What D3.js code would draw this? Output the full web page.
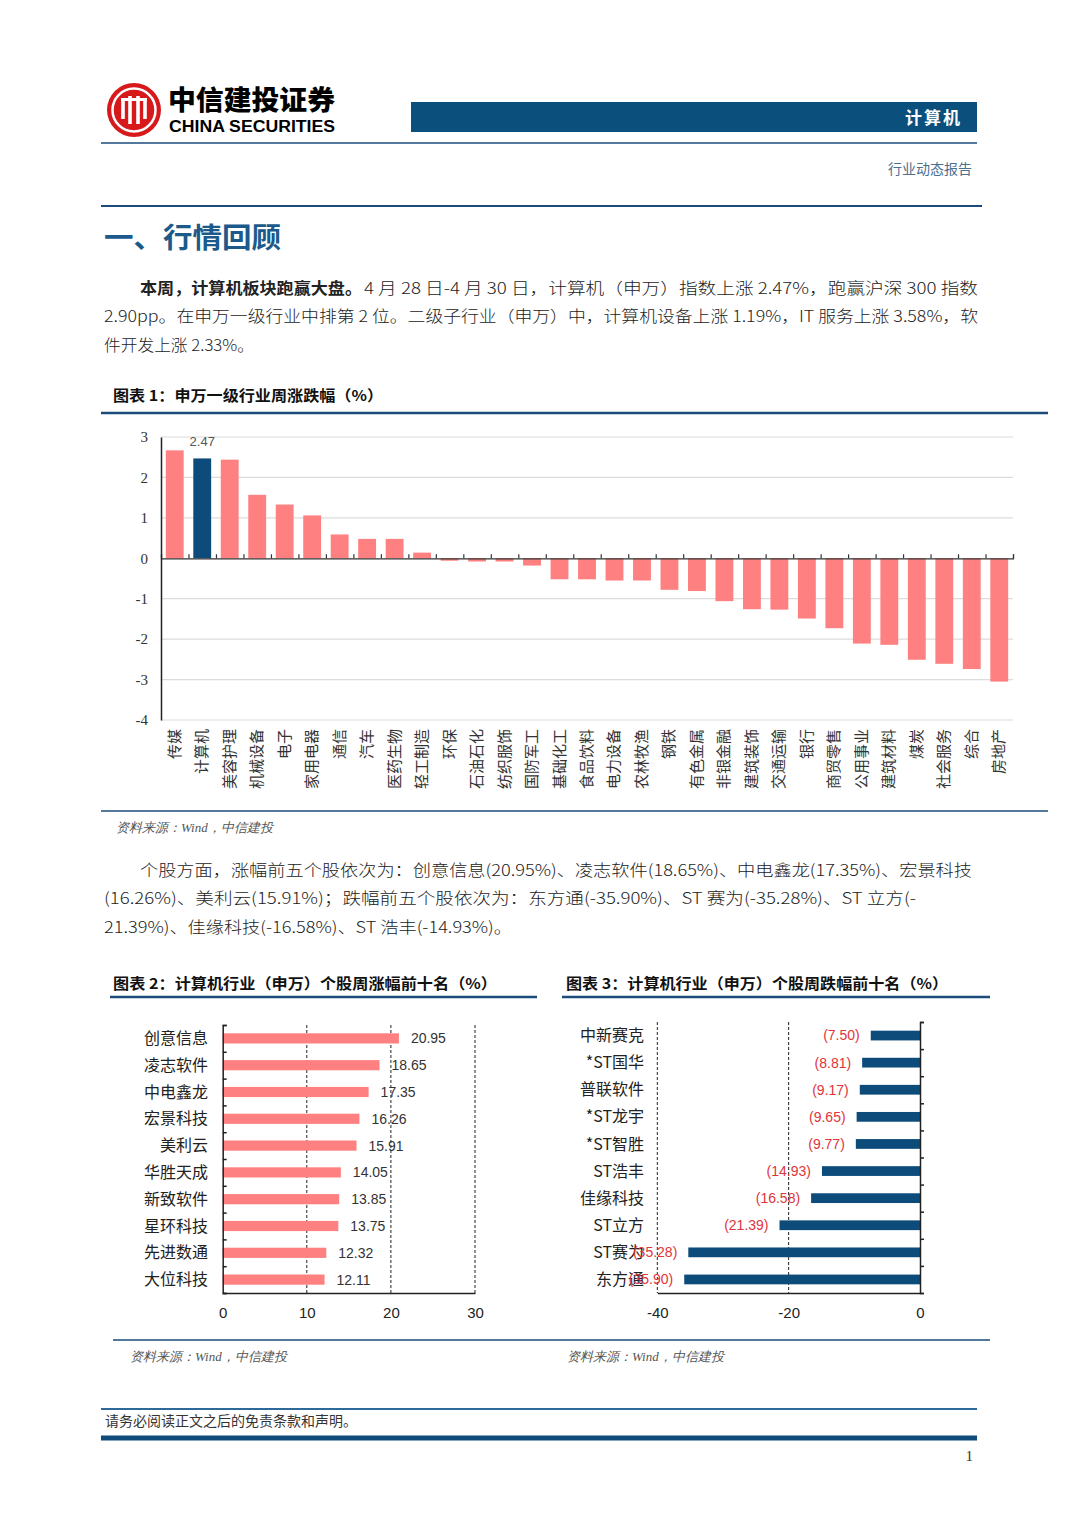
<!DOCTYPE html>
<html>
<head>
<meta charset="utf-8">
<script src="https://cdn.jsdelivr.net/npm/d3@7"></script>
<style>
  body { margin: 0; background: #fff; }
  svg { display: block; }
</style>
</head>
<body>
<div id="page"></div>
<script>
// === Data ===
const industries = ["传媒","计算机","美容护理","机械设备","电子","家用电器","通信","汽车","医药生物","轻工制造",
  "环保","石油石化","纺织服饰","国防军工","基础化工","食品饮料","电力设备","农林牧渔","钢铁","有色金属",
  "非银金融","建筑装饰","交通运输","银行","商贸零售","公用事业","建筑材料","煤炭","社会服务","综合","房地产"];
const industryChg = [2.67, 2.47, 2.44, 1.57, 1.33, 1.06, 0.59, 0.48, 0.48, 0.14,
  -0.06, -0.08, -0.08, -0.18, -0.52, -0.52, -0.55, -0.55, -0.78, -0.81,
  -1.06, -1.26, -1.27, -1.49, -1.73, -2.11, -2.14, -2.51, -2.61, -2.74, -3.05];
const yTicks1 = [3, 2, 1, 0, -1, -2, -3, -4];

const gainers = ["创意信息","凌志软件","中电鑫龙","宏景科技","美利云","华胜天成","新致软件","星环科技","先进数通","大位科技"];
const gainerChg = [20.95, 18.65, 17.35, 16.26, 15.91, 14.05, 13.85, 13.75, 12.32, 12.11];
const xTicks2 = [0, 10, 20, 30];

const losers = ["中新赛克","*ST国华","普联软件","*ST龙宇","*ST智胜","ST浩丰","佳缘科技","ST立方","ST赛为","东方通"];
const loserChg = [-7.50, -8.81, -9.17, -9.65, -9.77, -14.93, -16.58, -21.39, -35.28, -35.90];
const xTicks3 = [-40, -20, 0];

// === Styles ===
const CJK = "'Noto Sans CJK SC', 'Noto Sans', sans-serif";
const SERIF = "'Liberation Serif', 'DejaVu Serif', serif";
const SANS = "'Liberation Sans', Arial, sans-serif";
const navy = "#0d4c7a";
const salmon = "#ff8080";
const lineBlue = "#1a4b7a";
const plain = d => String(d);   // hyphen minus like the source

const svg = d3.select("#page").append("svg")
  .attr("width", 1080).attr("height", 1527);

svg.append("rect").attr("width", 1080).attr("height", 1527).attr("fill", "#fff");

// === Header ===
const logo = svg.append("g").attr("transform", "translate(134,110)");
logo.append("circle").attr("r", 27).attr("fill", "#d7191c");
logo.append("circle").attr("r", 21.5).attr("fill", "none").attr("stroke", "#fff").attr("stroke-width", 2.5);
[-11, -4, 4, 11].forEach((x, i) => {
  logo.append("rect").attr("x", x - 1.8).attr("y", i === 0 || i === 3 ? -9 : -14)
    .attr("width", 3.6).attr("height", i === 0 || i === 3 ? 18 : 28).attr("fill", "#fff");
});
logo.append("rect").attr("x", -13).attr("y", -12).attr("width", 26).attr("height", 3).attr("fill", "#fff");

svg.append("text").attr("x", 168).attr("y", 110)
  .attr("font-family", CJK).attr("font-weight", 900).attr("font-size", 27)
  .attr("textLength", 167).attr("lengthAdjust", "spacingAndGlyphs")
  .text("中信建投证券");
svg.append("text").attr("x", 169).attr("y", 132)
  .attr("font-family", SANS).attr("font-weight", 700).attr("font-size", 16)
  .attr("textLength", 166).attr("lengthAdjust", "spacingAndGlyphs")
  .text("CHINA SECURITIES");

svg.append("rect").attr("x", 411).attr("y", 102).attr("width", 566).attr("height", 30).attr("fill", "#0b4f7c");
svg.append("text").attr("x", 962).attr("y", 124).attr("text-anchor", "end")
  .attr("font-family", CJK).attr("font-weight", 700).attr("font-size", 17).attr("fill", "#fff")
  .attr("letter-spacing", 2).text("计算机");
svg.append("line").attr("x1", 101).attr("x2", 977).attr("y1", 143).attr("y2", 143)
  .attr("stroke", lineBlue).attr("stroke-width", 1.5);
svg.append("text").attr("x", 972).attr("y", 174).attr("text-anchor", "end")
  .attr("font-family", CJK).attr("font-size", 14).attr("fill", "#4a6f90").text("行业动态报告");
svg.append("line").attr("x1", 101).attr("x2", 982).attr("y1", 206).attr("y2", 206)
  .attr("stroke", lineBlue).attr("stroke-width", 2);

svg.append("text").attr("x", 104).attr("y", 248)
  .attr("font-family", CJK).attr("font-weight", 700).attr("font-size", 28).attr("fill", "#1b5a8a")
  .attr("textLength", 177).attr("lengthAdjust", "spacingAndGlyphs")
  .text("一、行情回顾");

// === Paragraphs ===
function line(x, y, txt, len, bold) {
  const t = svg.append("text").attr("x", x).attr("y", y)
    .attr("font-family", CJK).attr("font-size", 16).attr("fill", "#222")
    .attr("font-weight", bold ? 700 : 300)
    .text(txt);
  if (len) t.attr("textLength", len).attr("lengthAdjust", "spacingAndGlyphs");
  return t;
}
line(140, 294, "本周，计算机板块跑赢大盘。", 222, true);
line(364, 294, "4 月 28 日-4 月 30 日，计算机（申万）指数上涨 2.47%，跑赢沪深 300 指数", 614);
line(104, 322, "2.90pp。在申万一级行业中排第 2 位。二级子行业（申万）中，计算机设备上涨 1.19%，IT 服务上涨 3.58%，软", 874);
line(104, 351, "件开发上涨 2.33%。", 150);

line(140, 876, "个股方面，涨幅前五个股依次为：创意信息(20.95%)、凌志软件(18.65%)、中电鑫龙(17.35%)、宏景科技", 832);
line(104, 904, "(16.26%)、美利云(15.91%)；跌幅前五个股依次为：东方通(-35.90%)、ST 赛为(-35.28%)、ST 立方(-", 812);
line(104, 933, "21.39%)、佳缘科技(-16.58%)、ST 浩丰(-14.93%)。", 408);

// === Chart titles and frame lines ===
function title(x, y, txt, len) {
  svg.append("text").attr("x", x).attr("y", y)
    .attr("font-family", CJK).attr("font-weight", 700).attr("font-size", 15).attr("fill", "#111")
    .attr("textLength", len).attr("lengthAdjust", "spacingAndGlyphs").text(txt);
}
function source(x, y) {
  svg.append("text").attr("x", x).attr("y", y)
    .attr("font-family", SERIF).attr("font-style", "italic").attr("font-size", 13).attr("fill", "#555")
    .text("资料来源：Wind，中信建投");
}
function hline(x1, x2, y, w, c) {
  svg.append("line").attr("x1", x1).attr("x2", x2).attr("y1", y).attr("y2", y)
    .attr("stroke", c || lineBlue).attr("stroke-width", w);
}

title(113, 401, "图表 1：申万一级行业周涨跌幅（%）", 270);
hline(101, 1048, 413, 2.5);
hline(101, 1048, 811, 1.5);
source(116, 832);

title(113, 989, "图表 2：计算机行业（申万）个股周涨幅前十名（%）", 384);
title(566, 989, "图表 3：计算机行业（申万）个股周跌幅前十名（%）", 382);
hline(110, 537, 997, 2.5);
hline(562, 990, 997, 2.5);
hline(113, 990, 1340, 1.5);
source(130, 1361);
source(567, 1361);

// === Chart 1: industry bars ===
const x1 = d3.scaleBand().domain(industries).range([161, 1013]).paddingInner(0.35).paddingOuter(0.175);
const y1 = d3.scaleLinear().domain([-4, 3]).range([720, 437]);

const c1 = svg.append("g");
c1.selectAll(".grid").data(yTicks1.filter(d => d !== 0)).join("line")
  .attr("x1", 161).attr("x2", 1013).attr("y1", d => y1(d)).attr("y2", d => y1(d))
  .attr("stroke", "#dcdcdc").attr("stroke-width", 1.2);

c1.selectAll(".bar").data(industries).join("rect")
  .attr("x", d => x1(d)).attr("width", x1.bandwidth())
  .attr("y", (d, i) => y1(Math.max(0, industryChg[i])))
  .attr("height", (d, i) => Math.abs(y1(industryChg[i]) - y1(0)))
  .attr("fill", d => d === "计算机" ? navy : salmon);

// zero line with category boundary ticks
const xb = d3.scaleLinear().domain([0, industries.length]).range([161, 1013]);
c1.append("g").attr("transform", `translate(0,${y1(0)})`)
  .call(d3.axisTop(xb).tickValues(d3.range(industries.length + 1)).tickSize(4).tickFormat(""))
  .call(g => g.selectAll("path,line").attr("stroke", "#333").attr("stroke-width", 1.2));

c1.append("g").attr("transform", "translate(161,0)")
  .call(d3.axisLeft(y1).tickValues(yTicks1).tickSize(0).tickPadding(13).tickFormat(plain))
  .call(g => g.select(".domain").attr("stroke", "#222").attr("stroke-width", 1.5))
  .call(g => g.selectAll("text").attr("font-family", SERIF).attr("font-size", 15).attr("fill", "#333"));

// value label on computer bar
c1.append("text").attr("x", x1("计算机") + x1.bandwidth() / 2).attr("y", y1(3) + 9)
  .attr("text-anchor", "middle").attr("font-family", SANS).attr("font-size", 13).attr("fill", "#555")
  .text(d3.format(".2f")(industryChg[industries.indexOf("计算机")]));

c1.selectAll(".cat").data(industries).join("text")
  .attr("transform", d => `translate(${x1(d) + x1.bandwidth() / 2 + 5},729) rotate(-90)`)
  .attr("text-anchor", "end")
  .attr("font-family", CJK).attr("font-size", 15).attr("fill", "#333")
  .text(d => d);

// === Chart 2: top gainers ===
const x2 = d3.scaleLinear().domain([0, 30]).range([222.7, 475]);
const y2 = d3.scaleBand().domain(gainers).range([1025, 1293]).paddingInner(0.62).paddingOuter(0.31);
const c2 = svg.append("g");

c2.selectAll(".dash").data(xTicks2.filter(d => d > 0)).join("line")
  .attr("x1", d => x2(d)).attr("x2", d => x2(d)).attr("y1", 1025).attr("y2", 1293)
  .attr("stroke", "#222").attr("stroke-width", 1).attr("stroke-dasharray", "3,2");

c2.selectAll(".bar").data(gainers).join("rect")
  .attr("x", x2(0)).attr("y", d => y2(d))
  .attr("width", (d, i) => x2(gainerChg[i]) - x2(0)).attr("height", y2.bandwidth())
  .attr("fill", salmon);

c2.selectAll(".val").data(gainers).join("text")
  .attr("x", (d, i) => x2(gainerChg[i]) + 12).attr("y", d => y2(d) + y2.bandwidth() / 2).attr("dy", "0.35em")
  .attr("font-family", SANS).attr("font-size", 14).attr("fill", "#333")
  .text((d, i) => d3.format(".2f")(gainerChg[i]));

c2.selectAll(".cat").data(gainers).join("text")
  .attr("x", 208).attr("y", d => y2(d) + y2.bandwidth() / 2).attr("dy", "0.35em")
  .attr("text-anchor", "end").attr("font-family", CJK).attr("font-size", 16).attr("fill", "#222")
  .text(d => d);

const yb2 = d3.scaleLinear().domain([0, gainers.length]).range([1025, 1293]);
c2.append("g").attr("transform", `translate(${x2(0)},0)`)
  .call(d3.axisRight(yb2).tickValues(d3.range(gainers.length + 1)).tickSize(4).tickFormat(""))
  .call(g => g.selectAll("path,line").attr("stroke", "#222").attr("stroke-width", 1.5));

c2.append("g").attr("transform", "translate(0,1293)")
  .call(d3.axisBottom(x2).tickValues(xTicks2).tickSize(0).tickPadding(14).tickFormat(plain))
  .call(g => g.select(".domain").attr("stroke", "#222").attr("stroke-width", 1.5))
  .call(g => g.selectAll("text").attr("font-family", SANS).attr("font-size", 15).attr("fill", "#222"));

// === Chart 3: top losers ===
const x3 = d3.scaleLinear().domain([-40, 0]).range([657.3, 920]);
const y3 = d3.scaleBand().domain(losers).range([1022, 1293]).paddingInner(0.64).paddingOuter(0.32);
const c3 = svg.append("g");

c3.selectAll(".dash").data(xTicks3.filter(d => d < 0)).join("line")
  .attr("x1", d => x3(d)).attr("x2", d => x3(d)).attr("y1", 1022).attr("y2", 1293)
  .attr("stroke", "#222").attr("stroke-width", 1).attr("stroke-dasharray", "3,2");

c3.selectAll(".bar").data(losers).join("rect")
  .attr("x", (d, i) => x3(loserChg[i])).attr("y", d => y3(d))
  .attr("width", (d, i) => x3(0) - x3(loserChg[i])).attr("height", y3.bandwidth())
  .attr("fill", navy);

c3.selectAll(".cat").data(losers).join("text")
  .attr("x", 644).attr("y", d => y3(d) + y3.bandwidth() / 2).attr("dy", "0.35em")
  .attr("text-anchor", "end").attr("font-family", CJK).attr("font-size", 16).attr("fill", "#222")
  .text(d => d);

c3.selectAll(".val").data(losers).join("text")
  .attr("x", (d, i) => x3(loserChg[i]) - 11).attr("y", d => y3(d) + y3.bandwidth() / 2).attr("dy", "0.35em")
  .attr("text-anchor", "end").attr("font-family", SANS).attr("font-size", 14).attr("fill", "#e0343a")
  .text((d, i) => "(" + d3.format(".2f")(-loserChg[i]) + ")");

const yb3 = d3.scaleLinear().domain([0, losers.length]).range([1022, 1293]);
c3.append("g").attr("transform", `translate(${x3(0)},0)`)
  .call(d3.axisRight(yb3).tickValues(d3.range(losers.length + 1)).tickSize(4).tickFormat(""))
  .call(g => g.selectAll("path,line").attr("stroke", "#222").attr("stroke-width", 1.5));

c3.append("g").attr("transform", "translate(0,1293)")
  .call(d3.axisBottom(x3).tickValues(xTicks3).tickSize(0).tickPadding(14).tickFormat(plain))
  .call(g => g.select(".domain").attr("stroke", "#222").attr("stroke-width", 1.5))
  .call(g => g.selectAll("text").attr("font-family", SANS).attr("font-size", 15).attr("fill", "#222"));

// === Footer ===
hline(101, 977, 1409, 2, "#2d6a9a");
svg.append("text").attr("x", 105).attr("y", 1426)
  .attr("font-family", CJK).attr("font-size", 14).attr("fill", "#333")
  .text("请务必阅读正文之后的免责条款和声明。");
hline(101, 977, 1438, 5, "#0f4c7a");
svg.append("text").attr("x", 973).attr("y", 1461).attr("text-anchor", "end")
  .attr("font-family", SERIF).attr("font-size", 15).attr("fill", "#333").text("1");
</script>
</body>
</html>
